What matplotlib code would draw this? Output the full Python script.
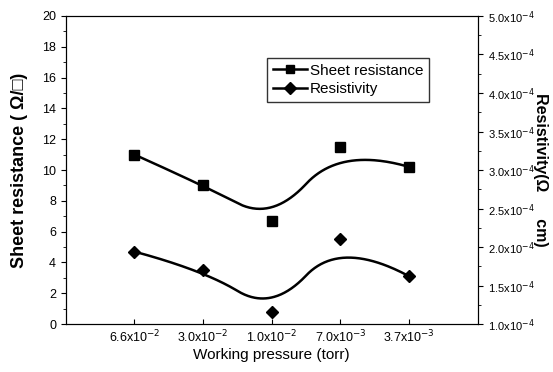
import numpy as np
import matplotlib.pyplot as plt
from matplotlib.ticker import MultipleLocator, FuncFormatter
from matplotlib.lines import Line2D

plt.rcParams['font.family'] = ['Liberation Sans', 'DejaVu Sans']

pressures = ['6.6x10$^{-2}$', '3.0x10$^{-2}$', '1.0x10$^{-2}$', '7.0x10$^{-3}$', '3.7x10$^{-3}$']
sheet_res = [11.0, 9.0, 6.7, 11.5, 10.2]
resistivity = [1.94e-4, 1.70e-4, 1.16e-4, 2.10e-4, 1.62e-4]


def bspline(px, py, k=2, n=300):
    # clamped B-spline using the data points as control points
    m = len(px)
    inner = np.linspace(0, 1, m - k + 1)
    knots = np.concatenate([[0] * k, inner, [1] * k])
    t = np.linspace(0, 1, n)
    t[-1] = 1 - 1e-12
    B = np.zeros((n, len(knots) - 1))
    for i in range(len(knots) - 1):
        B[:, i] = (t >= knots[i]) & (t < knots[i + 1])
    for d in range(1, k + 1):
        Bn = np.zeros((n, len(knots) - 1 - d))
        for i in range(len(knots) - 1 - d):
            a = knots[i + d] - knots[i]
            b = knots[i + d + 1] - knots[i + 1]
            if a > 0:
                Bn[:, i] += (t - knots[i]) / a * B[:, i]
            if b > 0:
                Bn[:, i] += (knots[i + d + 1] - t) / b * B[:, i + 1]
        B = Bn
    return B @ np.asarray(px, float), B @ np.asarray(py, float)


x = np.arange(1, len(pressures) + 1)

fig = plt.figure(figsize=(5.53, 3.72), dpi=100)
ax = fig.add_axes([0.119, 0.129, 0.745, 0.828])
ax2 = ax.twinx()

cx, cy = bspline(x, sheet_res)
ax.plot(cx, cy, color='black', lw=1.8)
ax.plot(x, sheet_res, 's', color='black', ms=7)
rx, ry = bspline(x, resistivity)
ax2.plot(rx, ry, color='black', lw=1.8)
ax2.plot(x, resistivity, 'D', color='black', ms=6.5)

ax.set_xlim(0, 6)
ax.set_ylim(0, 20)
ax2.set_ylim(1e-4, 5e-4)
ax.set_xticks(x)
ax.set_xticklabels(pressures, fontsize=9)
ax.yaxis.set_major_locator(MultipleLocator(2))
ax.yaxis.set_minor_locator(MultipleLocator(1))
ax2.yaxis.set_major_locator(MultipleLocator(0.5e-4))
ax2.yaxis.set_minor_locator(MultipleLocator(0.25e-4))
ax2.yaxis.set_major_formatter(FuncFormatter(lambda v, p: '%.1fx10$^{-4}$' % (v * 1e4)))
ax.tick_params(axis='y', labelsize=9, direction='out')
ax2.tick_params(axis='y', labelsize=8, direction='out')
ax.tick_params(axis='x', direction='in')

ax.set_xlabel('Working pressure (torr)', fontsize=11, labelpad=2)
ax.set_ylabel('Sheet resistance ( Ω/□)', fontsize=13, fontweight='bold', labelpad=10)
ax2.set_ylabel('Resistivity(Ω      cm)', fontsize=11.5, fontweight='bold', rotation=-90, labelpad=10)

h1 = Line2D([], [], color='black', lw=1.8, marker='s', ms=6)
h2 = Line2D([], [], color='black', lw=1.8, marker='D', ms=6)
ax.legend([h1, h2], ['Sheet resistance', 'Resistivity'], loc='upper left',
          bbox_to_anchor=(0.47, 0.89), fontsize=11, frameon=True, fancybox=False,
          edgecolor='black', handlelength=2.2, handletextpad=0.2, borderpad=0.4,
          labelspacing=0.3)

fig.savefig('out.png', dpi=100)
